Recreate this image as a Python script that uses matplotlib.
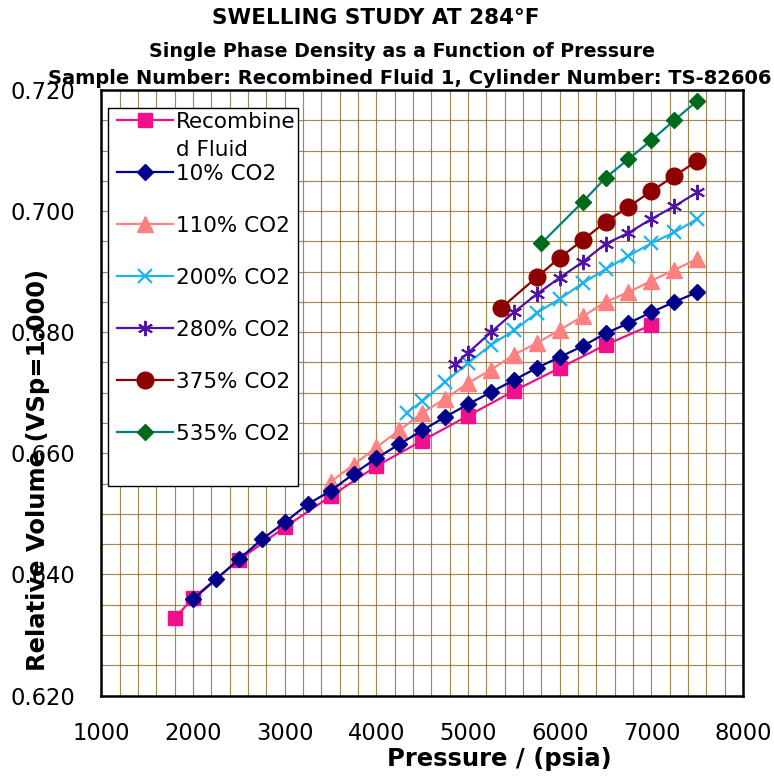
import matplotlib
matplotlib.use("Agg")
import matplotlib.pyplot as plt
from matplotlib.patches import Rectangle
import numpy as np

# pressures (psia) and relative volumes
p_recomb = [1800, 2000, 2500, 3000, 3500, 4000, 4500, 5000, 5500, 6000, 6500, 7000]
v_recomb = [0.6328, 0.6361, 0.6424, 0.6478, 0.6529, 0.6579, 0.6621, 0.6662, 0.6703, 0.6741, 0.6779, 0.6812]

p_10 = [2000, 2250, 2500, 2750, 3000, 3250, 3500, 3750, 4000, 4250, 4500, 4750,
        5000, 5250, 5500, 5750, 6000, 6250, 6500, 6750, 7000, 7250, 7500]
v_10 = [0.6359, 0.6392, 0.6425, 0.6458, 0.6486, 0.6516, 0.6538, 0.6566, 0.6592, 0.6615, 0.6638, 0.6660,
        0.6681, 0.6701, 0.6721, 0.6741, 0.6759, 0.6777, 0.6798, 0.6815, 0.6833, 0.6850, 0.6866]

p_110 = [3500, 3750, 4000, 4250, 4500, 4750, 5000, 5250, 5500, 5750, 6000, 6250, 6500, 6750, 7000, 7250, 7500]
v_110 = [0.6553, 0.6581, 0.6610, 0.6638, 0.6667, 0.6690, 0.6716, 0.6738, 0.6763,
         0.6782, 0.6804, 0.6826, 0.6850, 0.6866, 0.6885, 0.6903, 0.6921]

p_200 = [4330, 4500, 4750, 5000, 5250, 5500, 5750, 6000, 6250, 6500, 6750, 7000, 7250, 7500]
v_200 = [0.6667, 0.6686, 0.6718, 0.6749, 0.6779, 0.6803, 0.6832, 0.6855, 0.6881, 0.6904, 0.6926, 0.6947, 0.6965, 0.6987]

p_280 = [4860, 5000, 5250, 5500, 5750, 6000, 6250, 6500, 6750, 7000, 7250, 7500]
v_280 = [0.6747, 0.6766, 0.6800, 0.6833, 0.6863, 0.6890, 0.6916, 0.6946, 0.6964, 0.6987, 0.7008, 0.7031]

p_375 = [5360, 5750, 6000, 6250, 6500, 6750, 7000, 7250, 7500]
v_375 = [0.6840, 0.6891, 0.6923, 0.6952, 0.6982, 0.7007, 0.7033, 0.7058, 0.7083]

p_535 = [5800, 6250, 6500, 6750, 7000, 7250, 7500]
v_535 = [0.6947, 0.7015, 0.7055, 0.7086, 0.7117, 0.7150, 0.7182]

x_ticks = [1000, 2000, 3000, 4000, 5000, 6000, 7000, 8000]
y_ticks = [0.620, 0.640, 0.660, 0.680, 0.700, 0.720]

plt.rcParams['font.family'] = ['DejaVu Sans']

fig = plt.figure(figsize=(7.74, 7.76), dpi=100)
ax = fig.add_axes([0.1311, 0.1037, 0.8289, 0.7803])

ax.plot(p_recomb, v_recomb, color='#F0108C', lw=1.6, marker='s', ms=10.5,
        mfc='#F0108C', mec='#F0108C', label='Recombine', zorder=3)
ax.plot(p_10, v_10, color='#00008B', lw=1.6, marker='D', ms=8,
        mfc='#00008B', mec='#00008B', label='10% CO2', zorder=4)
ax.plot(p_110, v_110, color='#FF8080', lw=1.6, marker='^', ms=11,
        mfc='#FF8080', mec='#FF8080', label='110% CO2', zorder=3)
ax.plot(p_200, v_200, color='#1CB4EC', lw=1.6, marker='x', ms=10, mew=1.6,
        label='200% CO2', zorder=3)
ax.plot(p_280, v_280, color='#5010AA', lw=1.6, marker=(6, 2, 0), ms=11, mew=1.4,
        label='280% CO2', zorder=3)
ax.plot(p_375, v_375, color='#8E0000', lw=1.6, marker='o', ms=12,
        mfc='#8E0000', mec='#8E0000', label='375% CO2', zorder=3)
ax.plot(p_535, v_535, color='#008080', lw=1.6, marker='D', ms=8,
        mfc='#006A1C', mec='#006A1C', label='535% CO2', zorder=3)

ax.set_xlim(1000, 8000)
ax.set_ylim(0.620, 0.720)
ax.set_xticks(x_ticks)
ax.set_yticks(y_ticks)
ax.set_yticklabels(['%.3f' % v for v in y_ticks])
ax.set_xticks(np.arange(1000, 8001, 200), minor=True)
ax.set_yticks(np.arange(0.620, 0.7201, 0.005), minor=True)
ax.grid(which='both', color='#8C6B2A', lw=0.85, alpha=0.8)
ax.set_axisbelow(True)
ax.tick_params(which='both', length=0)
ax.tick_params(axis='x', labelsize=16.3, pad=19)
ax.tick_params(axis='y', labelsize=16.3, pad=19)
for s in ax.spines.values():
    s.set_linewidth(1.8)
    s.set_color('black')

ax.set_xlabel('Pressure / (psia)', fontsize=17.5, fontweight='bold')
ax.xaxis.set_label_coords(0.62, -0.085)
ax.set_ylabel('Relative Volume (VSp=1.000)', fontsize=17.5, fontweight='bold')
ax.yaxis.set_label_coords(-0.080, 0.372)

fig.text(0.486, 0.977, 'SWELLING STUDY AT 284\u00b0F', fontsize=15.5, fontweight='bold',
         ha='center', va='center')
fig.text(0.519, 0.933, 'Single Phase Density as a Function of Pressure', fontsize=13.7,
         fontweight='bold', ha='center', va='center')
fig.text(0.53, 0.899, 'Sample Number: Recombined Fluid 1, Cylinder Number: TS-82606',
         fontsize=14, fontweight='bold', ha='center', va='center')

# legend box as drawn in the original (taller than its entries)
ax.add_patch(Rectangle((0.0101, 0.346), 0.2962, 0.624, transform=ax.transAxes,
                       facecolor='white', edgecolor='black', lw=1.0, zorder=4.5))
leg = ax.legend(loc='upper left', bbox_to_anchor=(0.0242, 0.9637), fontsize=15.5,
                frameon=False, handlelength=2.6, handletextpad=0.15,
                labelspacing=1.486, borderpad=0, borderaxespad=0)
leg.set_zorder(6)

# the first label wraps onto a second line in the original
fig.canvas.draw()
bb = leg.get_texts()[0].get_window_extent()
W, H = fig.canvas.get_width_height()
fig.text(bb.x0 / W, (bb.y0 - 28) / H, 'd Fluid', fontsize=15.5,
         ha='left', va='bottom', zorder=6)

fig.savefig('out.png', dpi=100)
